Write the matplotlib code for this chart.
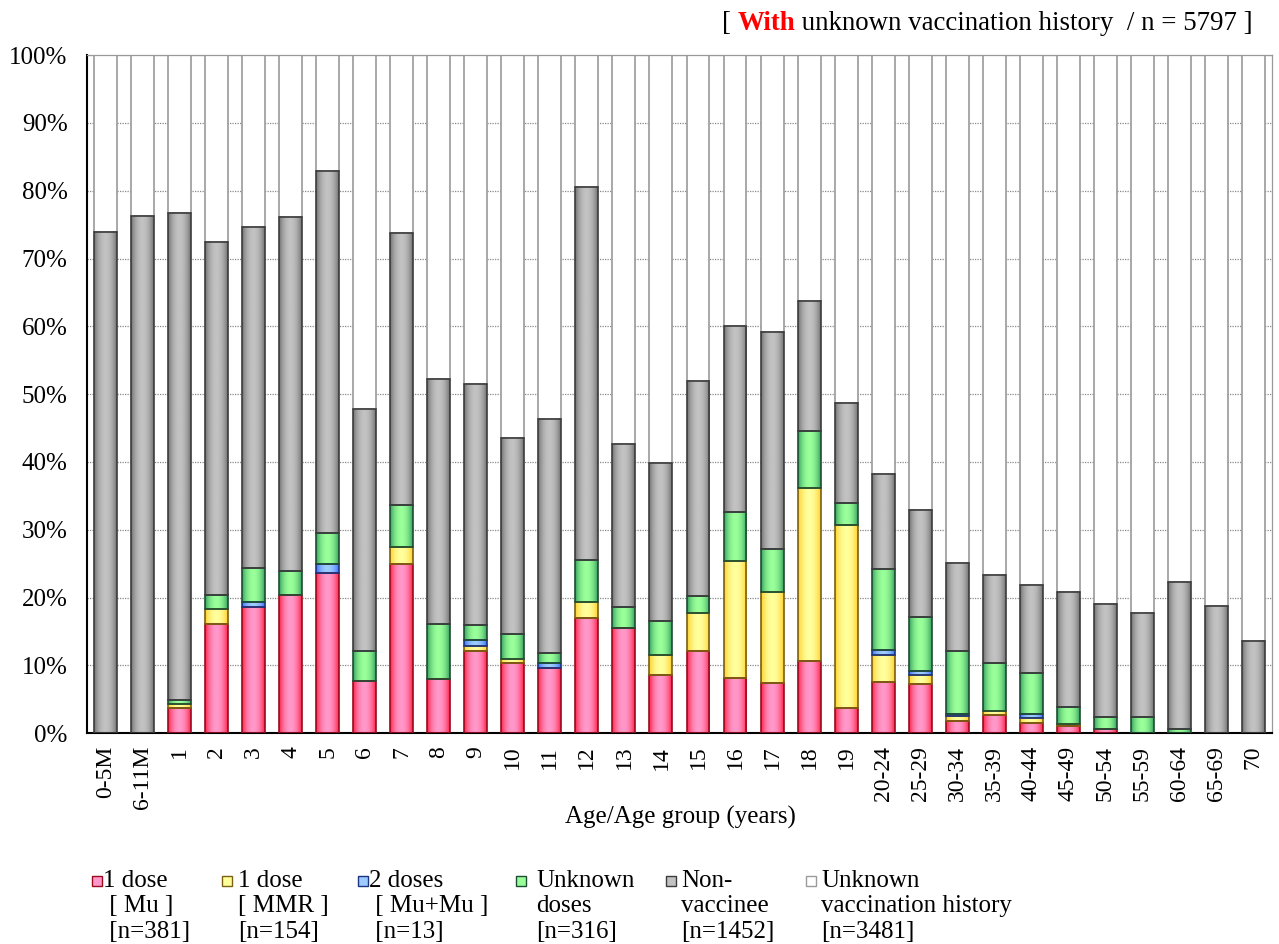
import numpy as np
import matplotlib
matplotlib.use("Agg")
import matplotlib.pyplot as plt
from matplotlib.colors import LinearSegmentedColormap
from matplotlib.patches import Rectangle

plt.rcParams['font.family'] = ['Liberation Serif', 'DejaVu Serif']

# categorias (idade / faixa etaria)
idades = ['0-5M', '6-11M', '1', '2', '3', '4', '5', '6', '7', '8', '9', '10',
          '11', '12', '13', '14', '15', '16', '17', '18', '19', '20-24',
          '25-29', '30-34', '35-39', '40-44', '45-49', '50-54', '55-59',
          '60-64', '65-69', '70']

# porcentagens (%)
dose1_mu = [0, 0, 3.7, 16.1, 18.6, 20.4, 23.7, 7.7, 24.9, 8.0, 12.2, 10.3,
            9.7, 17.0, 15.5, 8.6, 12.1, 8.1, 7.4, 10.6, 3.8, 7.5,
            7.2, 1.8, 2.7, 1.5, 1.1, 0.7, 0, 0, 0, 0]
dose1_mmr = [0, 0, 0.6, 2.2, 0, 0, 0, 0, 2.5, 0, 0.7, 0.7,
             0, 2.3, 0, 3.0, 5.7, 17.3, 13.5, 25.5, 26.9, 4.1,
             1.4, 0.7, 0.6, 0.7, 0.3, 0, 0, 0, 0, 0]
dose2_mumu = [0, 0, 0, 0, 0.8, 0, 1.2, 0, 0, 0, 0.8, 0,
              0.6, 0, 0, 0, 0, 0, 0, 0, 0, 0.7,
              0.6, 0.3, 0, 0.6, 0, 0, 0, 0, 0, 0]
doses_desconhecidas = [0, 0, 0.6, 2.1, 4.9, 3.5, 4.6, 4.5, 6.3, 8.1, 2.3, 3.7,
                       1.5, 6.2, 3.1, 5.0, 2.4, 7.3, 6.2, 8.5, 3.2, 11.9,
                       7.9, 9.3, 7.0, 6.1, 2.5, 1.7, 2.4, 0.7, 0, 0]
nao_vacinados = [73.9, 76.2, 71.8, 52.1, 50.4, 52.2, 53.4, 35.6, 40.0, 36.1, 35.5, 28.9,
                 34.6, 55.1, 24.0, 23.2, 31.8, 27.3, 32.1, 19.2, 14.8, 14.1,
                 15.8, 13.0, 13.0, 12.9, 17.0, 16.7, 15.4, 21.6, 18.7, 13.6]

rotulos = ['1 dose\n [ Mu ]\n [n=381]',
           '1 dose\n[ MMR ]\n[n=154]',
           '2 doses\n [ Mu+Mu ]\n [n=13]',
           'Unknown\ndoses\n[n=316]',
           'Non-\nvaccinee\n[n=1452]',
           'Unknown\nvaccination history\n[n=3481]']

# (escuro, claro, contorno)
cores = [('#FF1538', '#FF98CA', '#9A0A1E'),
         ('#FFC81E', '#FFFF9C', '#7A6010'),
         ('#2F62FF', '#9CCBFF', '#1B3580'),
         ('#2C9558', '#99FF99', '#1E4D33'),
         ('#686868', '#C2C2C2', '#3C3C3C')]

gradiente = (np.sin(np.linspace(0, np.pi, 80)) ** 0.7).reshape(1, -1)


def sombrear(ax, barras, escuro, claro):
    cmap = LinearSegmentedColormap.from_list('g', [escuro, claro])
    for b in barras:
        if b.get_height() <= 0:
            b.set_visible(False)
            continue
        x0, y0 = b.get_x(), b.get_y()
        ax.imshow(gradiente, cmap=cmap, vmin=0, vmax=1, aspect='auto',
                  interpolation='bilinear', zorder=2,
                  extent=(x0, x0 + b.get_width(), y0, y0 + b.get_height()))


fig = plt.figure(figsize=(12.79, 9.44), dpi=100)
ax = fig.add_axes([0.068, 0.2232, 0.9265, 0.7185])

x = np.arange(len(idades))
largura = 0.62
series = [dose1_mu, dose1_mmr, dose2_mumu, doses_desconhecidas, nao_vacinados]
base = np.zeros(len(idades))
for valores, (escuro, claro, contorno) in zip(series, cores):
    v = np.array(valores, dtype=float)
    barras = ax.bar(x, v, largura, bottom=base, facecolor='none',
                    edgecolor=contorno, linewidth=1.2, zorder=3)
    sombrear(ax, barras, escuro, claro)
    base = base + v

# historico desconhecido (resto ate 100%)
desconhecido = 100 - base
ax.bar(x, desconhecido, largura, bottom=base, color='white',
       edgecolor='#9A9A9A', linewidth=1.2, zorder=1.5)

ax.set_xlim(-0.5, len(idades) - 0.5)
ax.set_ylim(0, 100)
ax.set_yticks(np.arange(0, 101, 10))
ax.set_yticklabels([f'{v}%' for v in range(0, 101, 10)], fontsize=18)
ax.set_xticks(x)
ax.set_xticklabels(idades, rotation=90, fontsize=17)
ax.tick_params(axis='y', length=0, pad=14)
ax.tick_params(axis='x', length=0, pad=9)
ax.yaxis.grid(True, linestyle=(0, (1, 1)), color='#8A8A8A', linewidth=0.9, zorder=0)
ax.set_axisbelow(True)
for lado in ['left', 'bottom']:
    ax.spines[lado].set_color('black')
    ax.spines[lado].set_linewidth(1.5)
for lado in ['top', 'right']:
    ax.spines[lado].set_color('#9A9A9A')
    ax.spines[lado].set_linewidth(0.9)

fig.text(0.532, 1 - 817 / 944, 'Age/Age group (years)', ha='center', va='center', fontsize=18)

# titulo no canto superior direito
t1 = fig.text(0.5645, 1 - 23 / 944, '[ ', fontsize=19.4, va='center', ha='left')
t2 = ax.annotate('With', xy=(1, 0), xycoords=t1, va='bottom', ha='left',
                 fontsize=19.4, color='#FF0000', fontweight='bold')
ax.annotate(' unknown vaccination history  / n = 5797 ]', xy=(1, 0), xycoords=t2,
            va='bottom', ha='left', fontsize=19.4)

# legenda manual
x_quadrado = [92, 222, 358, 516, 666, 806]
x_texto = [103, 238, 369, 536, 681, 821]
cores_leg = [c for c in cores] + [('#FFFFFF', '#FFFFFF', '#9A9A9A')]
for xq, xt, rot, (escuro, claro, contorno) in zip(x_quadrado, x_texto, rotulos, cores_leg):
    fig.patches.append(Rectangle((xq / 1279, 1 - 886 / 944), 10 / 1279, 10 / 944,
                                 transform=fig.transFigure, facecolor=claro,
                                 edgecolor=contorno, linewidth=1.0))
    fig.text(xt / 1279, 1 - 870 / 944, rot, ha='left', va='top', fontsize=18,
             linespacing=1.2)

fig.savefig('out.png', dpi=100)
